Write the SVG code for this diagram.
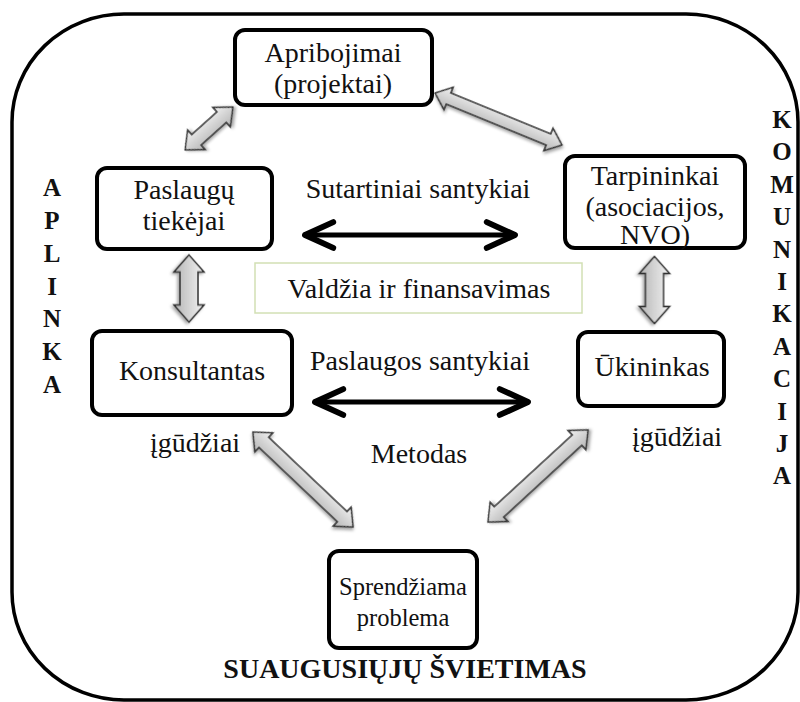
<svg xmlns="http://www.w3.org/2000/svg" width="800" height="702" viewBox="0 0 800 702">
<style>
.box{fill:#fff;stroke:#000;stroke-width:4}
.t{font-family:"Liberation Serif","Times New Roman",serif;font-size:28px;fill:#111;text-anchor:middle}
.b{font-family:"Liberation Serif","Times New Roman",serif;font-size:25px;font-weight:bold;fill:#111;text-anchor:middle}
.ga{fill:url(#gg);stroke:#333;stroke-width:1.6;stroke-linejoin:miter;filter:url(#sh)}
.ba{stroke:#000;stroke-width:5;fill:none;marker-start:url(#chev);marker-end:url(#chev)}
</style>
<defs>
<linearGradient id="gg" x1="0" y1="0" x2="0" y2="1">
<stop offset="0" stop-color="#f2f2f2"/>
<stop offset="1" stop-color="#b5b5b5"/>
</linearGradient>
<filter id="sh" x="-30%" y="-30%" width="160%" height="160%">
<feDropShadow dx="1.5" dy="2" stdDeviation="1.5" flood-color="#000" flood-opacity="0.35"/>
</filter>
<marker id="chev" markerUnits="userSpaceOnUse" markerWidth="40" markerHeight="40" viewBox="-30 -15 34 30" refX="0" refY="0" orient="auto-start-reverse">
<path d="M -24,-11 L 0,0 L -24,11" fill="none" stroke="#000" stroke-width="5" stroke-linecap="round" stroke-linejoin="round"/>
</marker>
</defs>
<rect x="12" y="14" width="786" height="686" rx="112" ry="108" fill="none" stroke="#000" stroke-width="3.5"/>

<g id="connectors">
<polygon class="ga" transform="translate(209,128.5) rotate(-41.9)" points="-32,0 -17,-13 -17,-7 17,-7 17,-13 32,0 17,13 17,7 -17,7 -17,13"/>
<polygon class="ga" transform="translate(498.5,119) rotate(22.3)" points="-68.5,0 -54,-12 -54,-6 54,-6 54,-12 68.5,0 54,12 54,6 -54,6 -54,12"/>
<polygon class="ga" transform="translate(189,288.5) rotate(90)" points="-33.5,0 -16.5,-15 -16.5,-9 16.5,-9 16.5,-15 33.5,0 16.5,15 16.5,9 -16.5,9 -16.5,15"/>
<polygon class="ga" transform="translate(654.5,290) rotate(90)" points="-33.5,0 -16.5,-15 -16.5,-9 16.5,-9 16.5,-15 33.5,0 16.5,15 16.5,9 -16.5,9 -16.5,15"/>
<polygon class="ga" transform="translate(303,479.5) rotate(43.5)" points="-69,0 -54,-13 -54,-7 54,-7 54,-13 69,0 54,13 54,7 -54,7 -54,13"/>
<polygon class="ga" transform="translate(538,476) rotate(-42.6)" points="-68,0 -53,-13 -53,-7 53,-7 53,-13 68,0 53,13 53,7 -53,7 -53,13"/>
<line class="ba" x1="305" y1="235" x2="515" y2="235"/>
<line class="ba" x1="315" y1="402" x2="528" y2="402"/>
</g>

<g id="n-apribojimai">
<rect class="box" x="235" y="30" width="197" height="75" rx="10"/>
<text class="t" x="333" y="62">Apribojimai</text>
<text class="t" x="333" y="93">(projektai)</text>
</g>
<g id="n-tarpininkai">
<rect class="box" x="565" y="156" width="180" height="92" rx="10"/>
<text class="t" x="655" y="185">Tarpininkai</text>
<text class="t" x="655" y="216">(asociacijos,</text>
<text class="t" x="655" y="244">NVO)</text>
</g>
<g id="n-paslaugu">
<rect class="box" x="97" y="168" width="175" height="81" rx="10"/>
<text class="t" x="184" y="199">Paslaugų</text>
<text class="t" x="184" y="230">tiekėjai</text>
</g>
<g id="n-konsultantas">
<rect class="box" x="92" y="331" width="200" height="84" rx="10"/>
<text class="t" x="192" y="380">Konsultantas</text>
</g>
<g id="n-ukininkas">
<rect class="box" x="578" y="332" width="146" height="74" rx="10"/>
<text class="t" x="652" y="376">Ūkininkas</text>
</g>
<g id="n-sprendziama">
<rect class="box" x="329" y="551" width="148" height="97" rx="10"/>
<text class="t" x="403" y="595" style="font-size:24.5px">Sprendžiama</text>
<text class="t" x="403" y="626" style="font-size:24.5px">problema</text>
</g>
<g id="n-valdzia">
<rect x="255" y="263" width="327" height="50" fill="#fff" stroke="#d2e0b4" stroke-width="1.5"/>
<text class="t" x="419" y="298">Valdžia ir finansavimas</text>
</g>

<g id="labels">
<text class="t" x="418" y="198">Sutartiniai santykiai</text>
<text class="t" x="420" y="370">Paslaugos santykiai</text>
<text class="t" x="419" y="463">Metodas</text>
<text class="t" x="195" y="452">įgūdžiai</text>
<text class="t" x="677" y="446">įgūdžiai</text>
<text class="b" x="405" y="678" style="font-size:28px">SUAUGUSIŲJŲ ŠVIETIMAS</text>
</g>

<g id="aplinka">
<text class="b" x="52" y="196">A</text>
<text class="b" x="52" y="229">P</text>
<text class="b" x="52" y="262">L</text>
<text class="b" x="52" y="295">I</text>
<text class="b" x="52" y="327">N</text>
<text class="b" x="52" y="360">K</text>
<text class="b" x="52" y="393">A</text>
</g>
<g id="komunikacija">
<text class="b" x="782" y="128">K</text>
<text class="b" x="782" y="160">O</text>
<text class="b" x="782" y="193">M</text>
<text class="b" x="782" y="225">U</text>
<text class="b" x="782" y="258">N</text>
<text class="b" x="782" y="290">I</text>
<text class="b" x="782" y="322">K</text>
<text class="b" x="782" y="355">A</text>
<text class="b" x="782" y="387">C</text>
<text class="b" x="782" y="420">I</text>
<text class="b" x="782" y="452">J</text>
<text class="b" x="782" y="484">A</text>
</g>
</svg>
